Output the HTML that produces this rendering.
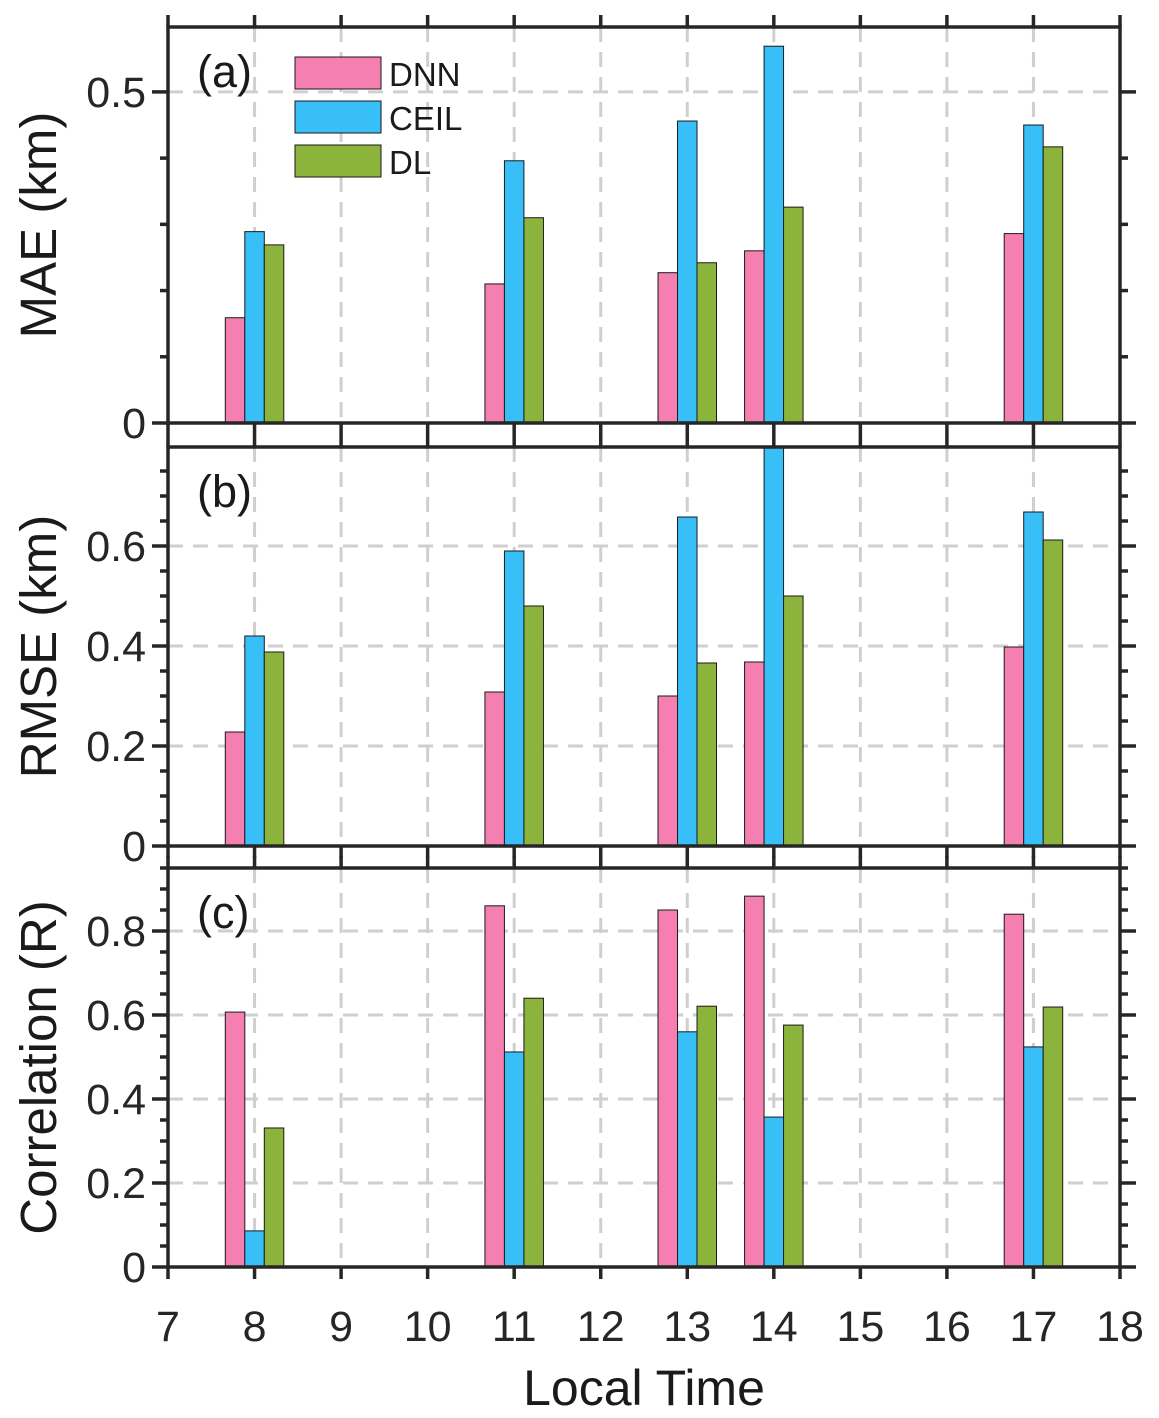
<!DOCTYPE html>
<html><head><meta charset="utf-8"><style>
html,body{margin:0;padding:0;background:#fff;}
svg{display:block;font-family:"Liberation Sans",Arial,sans-serif;}
</style></head><body>
<svg id="chart" width="1159" height="1418" viewBox="0 0 1159 1418" xmlns="http://www.w3.org/2000/svg"></svg>
<script>
const hours = [8, 11, 13, 14, 17];
const seriesNames = ["DNN", "CEIL", "DL"];
const maeDNN = [0.159, 0.21, 0.227, 0.26, 0.286];
const maeCEIL = [0.289, 0.396, 0.456, 0.569, 0.45];
const maeDL = [0.269, 0.31, 0.242, 0.326, 0.417];
const rmseDNN = [0.228, 0.308, 0.30, 0.368, 0.398];
const rmseCEIL = [0.42, 0.59, 0.658, 0.80, 0.668];
const rmseDL = [0.388, 0.48, 0.366, 0.50, 0.612];
const rDNN = [0.607, 0.86, 0.85, 0.883, 0.84];
const rCEIL = [0.086, 0.512, 0.56, 0.357, 0.524];
const rDL = [0.331, 0.64, 0.621, 0.576, 0.619];
const xTicks = [7,8,9,10,11,12,13,14,15,16,17,18];
const maeTicks = [0, 0.5];
const rmseTicks = [0, 0.2, 0.4, 0.6];
const rTicks = [0, 0.2, 0.4, 0.6, 0.8];

const colors = ["#f57fb0", "#38bff8", "#8cb43c"];
const svg = document.getElementById('chart');
const NS = "http://www.w3.org/2000/svg";
function el(tag, attrs, parent){const e=document.createElementNS(NS,tag);for(const k in attrs)e.setAttribute(k,attrs[k]);(parent||svg).appendChild(e);return e;}
const X0=168, X1=1120;
function xs(h){return X0+(h-7)*(X1-X0)/11;}
const BW=19.5;

const panels = [
 {name:"mae", top:27, bot:423, max:0.598, major:maeTicks, minorStep:0.1, label:"MAE (km)", tag:"(a)", data:[maeDNN,maeCEIL,maeDL], fmt:v=>v===0?"0":String(v)},
 {name:"rmse", top:447, bot:846, max:0.798, major:rmseTicks, minorStep:0.05, label:"RMSE (km)", tag:"(b)", data:[rmseDNN,rmseCEIL,rmseDL], fmt:v=>v===0?"0":v.toFixed(1)},
 {name:"corr", top:868, bot:1267, max:0.95, major:rTicks, minorStep:0.05, label:"Correlation (R)", tag:"(c)", data:[rDNN,rCEIL,rDL], fmt:v=>v===0?"0":v.toFixed(1)}
];

panels.forEach((p,pi)=>{
  const g=el('g',{});
  
  
  const ys=v=>p.bot-(v/p.max)*(p.bot-p.top);
  xTicks.slice(1,-1).forEach(h=>{
    const l=el('line',{x1:xs(h),x2:xs(h),y1:p.top,y2:p.bot,stroke:"#cfcfcf","stroke-width":3,"stroke-dasharray":"15,10"},g);
    
    
  });
  p.major.forEach(v=>{ if(v===0) return;
    const l=el('line',{x1:X0,x2:X1,y1:ys(v),y2:ys(v),stroke:"#cfcfcf","stroke-width":3,"stroke-dasharray":"15,10"},g);
    
    
  });
  p.data.forEach((arr,si)=>{
    arr.forEach((v,i)=>{
      const x=xs(hours[i])+(si-1.5)*BW;
      const vv=Math.min(v,p.max);
      const r=el('rect',{x:x,y:ys(vv),width:BW,height:p.bot-ys(vv),fill:colors[si],stroke:"#1a1a1a","stroke-width":1},g);
      
      
    });
  });
  const b=el('rect',{x:X0,y:p.top,width:X1-X0,height:p.bot-p.top,fill:"none",stroke:"#262626","stroke-width":3.5},g);
  
  
  xTicks.forEach(h=>{
    el('line',{x1:xs(h),x2:xs(h),y1:p.bot,y2:p.bot+12,stroke:"#262626","stroke-width":3.5},g);
    el('line',{x1:xs(h),x2:xs(h),y1:p.top,y2:p.top-12,stroke:"#262626","stroke-width":3.5},g);
  });
  for(let v=0; v<=p.max+1e-9; v+=p.minorStep){
    const isMaj=p.major.some(m=>Math.abs(m-v)<1e-6);
    const len=isMaj?16:8;
    el('line',{x1:X0,x2:X0-len,y1:ys(v),y2:ys(v),stroke:"#262626","stroke-width":3.5},g);
    el('line',{x1:X1,x2:X1+len,y1:ys(v),y2:ys(v),stroke:"#262626","stroke-width":3.5},g);
  }
  p.major.forEach(v=>{
    const t=el('text',{x:X0-22,y:ys(v)+15,"text-anchor":"end","font-size":43,fill:"#262626"},g);
    t.textContent=p.fmt(v);
    
    
  });
  const yl=el('text',{x:0,y:0,"text-anchor":"middle","font-size":51,fill:"#1a1a1a",transform:`translate(56,${(p.top+p.bot)/2}) rotate(-90)`},g);
  yl.textContent=p.label;
  
  
  const tg=el('text',{x:197,y:p.top+60,"font-size":45,fill:"#1a1a1a"},g);
  tg.textContent=p.tag;
  
  
});

xTicks.forEach(h=>{
  const t=el('text',{x:xs(h),y:1341,"text-anchor":"middle","font-size":43,fill:"#262626"});
  t.textContent=String(h);
  
  
});
const xt=el('text',{x:644,y:1405,"text-anchor":"middle","font-size":50,fill:"#1a1a1a"});
xt.textContent="Local Time";



seriesNames.forEach((n,i)=>{
  const y=57+i*44;
  const r=el('rect',{x:295,y:y,width:86,height:32,fill:colors[i],stroke:"#1a1a1a","stroke-width":1});
  
  
  const t=el('text',{x:389,y:y+29,"font-size":33,fill:"#1a1a1a"});
  t.textContent=n;
  
  
});
</script>
</body></html>
